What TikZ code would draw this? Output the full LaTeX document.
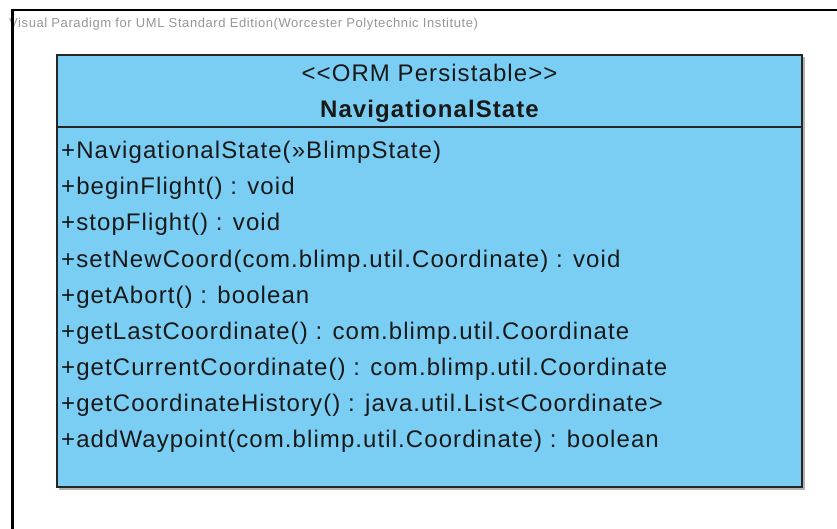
\documentclass[tikz,border=0pt]{standalone}
\usepackage{fontspec}
\setmainfont{Liberation Sans}
\newfontfamily\umlfont{Liberation Sans}[LetterSpace=4.5]
\newfontfamily\wmfont{Liberation Sans}[LetterSpace=4.5]
\usetikzlibrary{positioning}
\definecolor{classfill}{RGB}{122,206,244}
\definecolor{wmgray}{RGB}{150,150,150}
\definecolor{umltext}{RGB}{25,25,25}

\begin{document}
\begin{tikzpicture}[x=1pt,y=-1pt,
  optext/.style={anchor=base west,inner sep=0pt,text=umltext,
    font=\umlfont\fontsize{24}{24}\selectfont}]
  \useasboundingbox (0,0) rectangle (837,529);
  % watermark
  \node[anchor=base west,inner sep=0pt,text=wmgray,
    font=\wmfont\fontsize{13}{13}\selectfont] (wm) at (9,28)
    {Visual Paradigm for UML Standard Edition(Worcester Polytechnic Institute)};
  % frame
  \draw[line width=2.5pt] (837,10) -- (12.5,10) -- (12.5,529);
  % class box
  \fill[black!30] (59,57) rectangle (805,490);
  \draw[fill=classfill,draw=black!85,line width=1.8pt] (57,55) rectangle (802,487);
  \draw[black!85,line width=1.5pt] (57,127) -- (802,127);
  \node[anchor=base,inner sep=0pt,text=umltext,
    font=\umlfont\fontsize{24}{24}\selectfont] (stereo) at (429.5,82)
    {<<ORM Persistable>>};
  \node[anchor=base,inner sep=0pt,text=umltext,
    font=\umlfont\fontsize{24}{24}\selectfont\bfseries] (cname) at (429.5,118)
    {NavigationalState};
  % operations
  \foreach \op [count=\i] in {%
      {+NavigationalState(»BlimpState)},
      {+beginFlight() : void},
      {+stopFlight() : void},
      {+setNewCoord(com.blimp.util.Coordinate) : void},
      {+getAbort() : boolean},
      {+getLastCoordinate() : com.blimp.util.Coordinate},
      {+getCurrentCoordinate() : com.blimp.util.Coordinate},
      {+getCoordinateHistory() : java.util.List<Coordinate>},
      {+addWaypoint(com.blimp.util.Coordinate) : boolean}}
    \node[optext] (op\i) at (61,123+36*\i) {\op};
\end{tikzpicture}
\end{document}
